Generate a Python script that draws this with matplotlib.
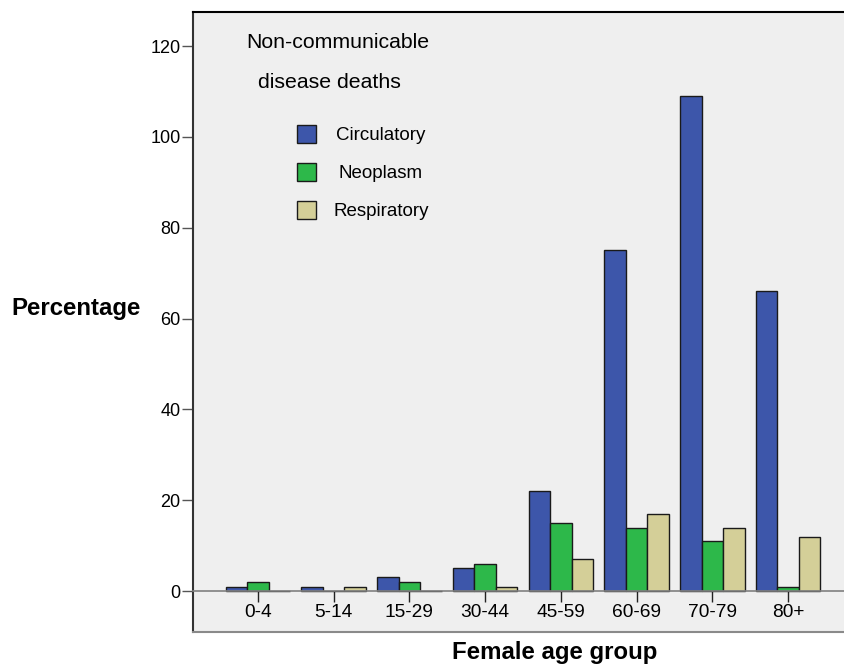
import matplotlib
matplotlib.use("Agg")
import matplotlib.pyplot as plt
from matplotlib.patches import Rectangle
import numpy as np

plt.rcParams['font.family'] = ['Liberation Sans', 'DejaVu Sans']

categories = ["0-4", "5-14", "15-29", "30-44", "45-59", "60-69", "70-79", "80+"]
series_names = ["Circulatory", "Neoplasm", "Respiratory"]
circulatory = [1, 1, 3, 5, 22, 75, 109, 66]
neoplasm = [2, 0, 2, 6, 15, 14, 11, 1]
respiratory = [0, 1, 0, 1, 7, 17, 14, 12]
yticks = [0, 20, 40, 60, 80, 100, 120]
legend_title = ["Non-communicable", "disease deaths"]

colors = ["#3D56AA", "#2DB84A", "#D4CF98"]
values = [circulatory, neoplasm, respiratory]

W, H = 844, 666
fig = plt.figure(figsize=(W / 100, H / 100), dpi=100)
ax = fig.add_axes([193 / W, 1 - 632 / H, 1 - 193 / W + 0.002, (632 - 12) / H])
ax.set_facecolor("#EFEFEF")

x = np.arange(len(categories))
bw = 0.284
for i, (vals, col) in enumerate(zip(values, colors)):
    ax.bar(x + (i - 1) * bw, vals, width=bw, color=col, edgecolor="#1a1a1a",
           linewidth=1.0, zorder=3)

ax.set_xlim(-0.856, 7.76)
ax.set_ylim(-9.0, 127.5)

# spines
ax.spines['bottom'].set_position(('data', 0))
ax.spines['bottom'].set_color("#808080")
ax.spines['bottom'].set_linewidth(1.2)
ax.spines['bottom'].set_zorder(4)
ax.spines['top'].set_color("black")
ax.spines['top'].set_linewidth(1.5)
ax.spines['left'].set_color("#333333")
ax.spines['left'].set_linewidth(1.5)
ax.spines['right'].set_visible(False)
# bottom frame line
ax.plot([0, 1], [0, 0], transform=ax.transAxes, color="#8a8a8a", lw=1.5,
        clip_on=False, zorder=5)

ax.set_yticks(yticks)
ax.set_yticklabels([str(t) for t in yticks], fontsize=13)
ax.tick_params(axis='y', direction='out', length=8, width=1.0, color="#555555", pad=1)
ax.set_xticks(x)
ax.set_xticklabels(categories, fontsize=13.8)
ax.tick_params(axis='x', direction='out', length=7.8, width=1.0, color="#222222", pad=1.5)

fig.text(76 / W, 1 - 309 / H, "Percentage", fontsize=17.3, fontweight='bold',
         ha='center', va='center')
fig.text(555 / W, 1 - 653 / H, "Female age group", fontsize=17.3, fontweight='bold',
         ha='center', va='center')

# legend
fig.text(338 / W, 1 - 41 / H, legend_title[0], fontsize=15.3, ha='center', va='center_baseline')
fig.text(329 / W, 1 - 81 / H, legend_title[1], fontsize=15.3, ha='center', va='center_baseline')
ys = [134, 172, 210]
for name, col, yy in zip(series_names, colors, ys):
    r = Rectangle((297 / W, 1 - (yy + 9) / H), 18.5 / W, 18 / H, transform=fig.transFigure,
                  facecolor=col, edgecolor="#1a1a1a", lw=1.0)
    fig.patches.append(r)
    fig.text(381 / W, 1 - yy / H, name, fontsize=13.5, ha='center', va='center_baseline')

fig.savefig("out.png", dpi=100)
